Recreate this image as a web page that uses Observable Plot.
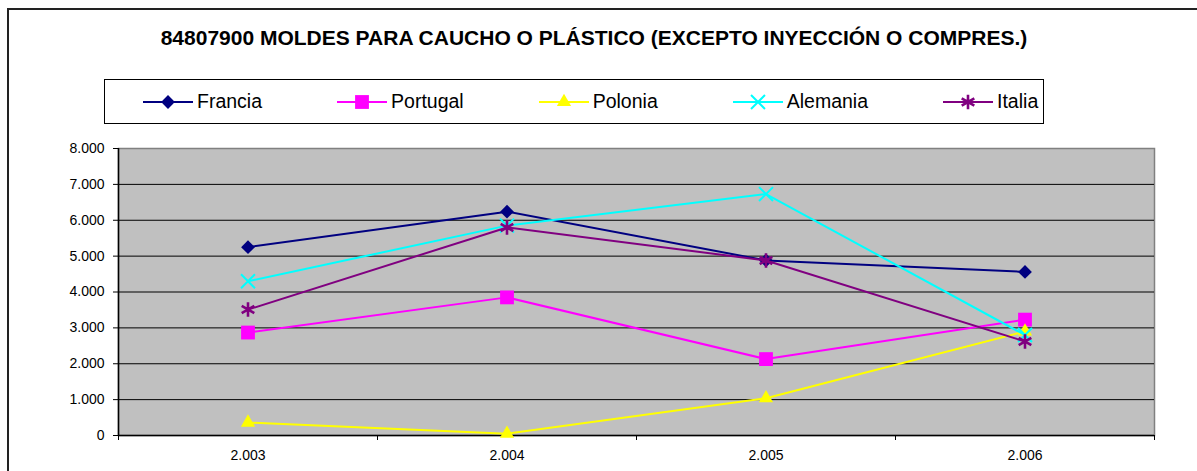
<!DOCTYPE html>
<html><head><meta charset="utf-8">
<script src="https://cdn.jsdelivr.net/npm/d3@7"></script>
<script src="https://cdn.jsdelivr.net/npm/@observablehq/plot@0.6"></script>
<style>
body{margin:0;background:#fff;font-family:"Liberation Sans",Arial,sans-serif;}
#wrap{position:relative;width:1197px;height:471px;overflow:hidden;background:#fff;}
#frame{position:absolute;left:7px;top:8px;width:1300px;height:600px;border-left:2px solid #222;border-top:2px solid #222;box-sizing:border-box;}
#chart{position:absolute;left:0;top:0;}
#title{position:absolute;left:0;width:1188px;top:27px;text-align:center;font-weight:bold;font-size:21px;line-height:21px;color:#000;white-space:nowrap;}
#legend{position:absolute;left:104px;top:79px;width:940px;height:45px;box-sizing:border-box;border:1px solid #000;background:#fff;display:flex;align-items:center;padding-left:38px;gap:75px;}
.item{display:flex;align-items:center;font-size:19.5px;color:#000;white-space:nowrap;}
.item svg{display:block;margin-right:4px;}
</style>
</head><body>
<div id="wrap">
  <div id="frame"></div>
  <div id="chart"></div>
  <div id="title">84807900 MOLDES PARA CAUCHO O PLÁSTICO (EXCEPTO INYECCIÓN O COMPRES.)</div>
  <div id="legend"></div>
</div>
<script>
// ---- data ----
const years = ["2.003", "2.004", "2.005", "2.006"];
const seriesNames = ["Francia", "Portugal", "Polonia", "Alemania", "Italia"];
const francia  = [5250, 6240, 4880, 4560];
const portugal = [2870, 3850, 2130, 3230];
const polonia  = [360, 50, 1040, 2900];
const alemania = [4300, 5850, 6730, 2800];
const italia   = [3510, 5800, 4880, 2620];
const yTicks = [0, 1000, 2000, 3000, 4000, 5000, 6000, 7000, 8000];

// ---- styles ----
const styles = {
  Francia:  {color: "#000080", symbol: "diamond2",  d3sym: d3.symbolDiamond2,  r: 6.2, filled: true},
  Portugal: {color: "#FF00FF", symbol: "square2",   d3sym: d3.symbolSquare2,   r: 8.8, filled: true},
  Polonia:  {color: "#FFFF00", symbol: "triangle2", d3sym: d3.symbolTriangle2, r: 6.8, filled: true},
  Alemania: {color: "#00FFFF", symbol: "times",     d3sym: d3.symbolTimes,     r: 6.4, filled: false, sw: 2},
  Italia:   {color: "#800080", symbol: "asterisk",  d3sym: d3.symbolAsterisk,  r: 6.9, filled: false, sw: 2.6}
};

const valuesBySeries = {Francia: francia, Portugal: portugal, Polonia: polonia, Alemania: alemania, Italia: italia};
const rows = seriesNames.flatMap(name => valuesBySeries[name].map((v, i) => ({serie: name, i, year: years[i], v})));

const fmt = d3.formatLocale({decimal: ",", thousands: ".", grouping: [3], currency: ["", ""]}).format(",");

const seriesMarks = seriesNames.flatMap(name => {
  const s = styles[name];
  const data = rows.filter(d => d.serie === name);
  return [
    Plot.line(data, {x: "i", y: "v", stroke: s.color, strokeWidth: 2}),
    s.filled
      ? Plot.dot(data, {x: "i", y: "v", symbol: s.symbol, r: s.r, fill: s.color, stroke: "none"})
      : Plot.dot(data, {x: "i", y: "v", symbol: s.symbol, r: s.r, fill: "none", stroke: s.color, strokeWidth: s.sw})
  ];
});

const chart = Plot.plot({
  width: 1197,
  height: 471,
  marginTop: 148,
  marginLeft: 118,
  marginRight: 43,
  marginBottom: 36,
  style: {background: "transparent", fontFamily: "'Liberation Sans', Arial, sans-serif", fontSize: "14px", color: "#000"},
  x: {type: "linear", domain: [-0.5, years.length - 0.5], label: null},
  y: {domain: [0, 8000], label: null},
  marks: [
    Plot.frame({fill: "#C0C0C0", stroke: "#808080", strokeWidth: 1.5}),
    Plot.ruleY(yTicks.filter(t => t > 0 && t < 8000), {stroke: "#000", strokeWidth: 1}),
    Plot.ruleY([0], {stroke: "#000", strokeWidth: 1.5}),
    Plot.ruleX([-0.5], {stroke: "#000", strokeWidth: 1.5}),
    Plot.axisY({ticks: yTicks, tickFormat: fmt, tickSize: 5, tickPadding: 9, label: null, fill: "#000"}),
    Plot.axisX({ticks: years.map((_, i) => i), tickFormat: i => years[i], tickSize: 0, tickPadding: 15, label: null, fill: "#000"}),
    Plot.axisX({ticks: d3.range(years.length + 1).map(i => i - 0.5), tickFormat: () => "", tickSize: 5, label: null}),
    ...seriesMarks
  ]
});
document.getElementById("chart").appendChild(chart);

// ---- legend ----
const legend = d3.select("#legend");
seriesNames.forEach(name => {
  const s = styles[name];
  const item = legend.append("div").attr("class", "item");
  const svg = item.append("svg").attr("width", 50).attr("height", 20);
  svg.append("line").attr("x1", 0).attr("x2", 50).attr("y1", 10).attr("y2", 10)
    .attr("stroke", s.color).attr("stroke-width", 2);
  const p = svg.append("path")
    .attr("transform", "translate(25,10)")
    .attr("d", d3.symbol(s.d3sym, Math.PI * s.r * s.r)());
  if (s.filled) p.attr("fill", s.color);
  else p.attr("fill", "none").attr("stroke", s.color).attr("stroke-width", s.sw);
  item.append("span").text(name);
});
</script>
</body></html>
